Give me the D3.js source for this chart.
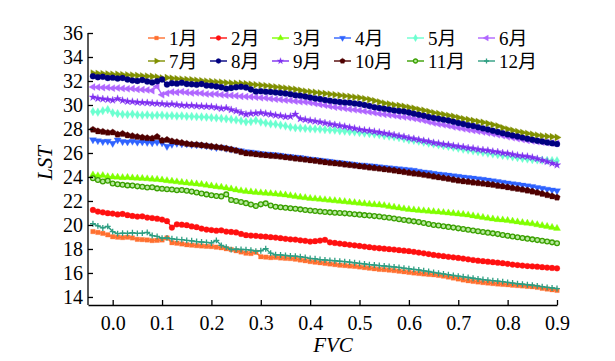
<!DOCTYPE html>
<html>
<head>
<meta charset="utf-8">
<script src="https://cdn.jsdelivr.net/npm/d3@7"></script>
<style>
  body { margin: 0; background: #fff; }
  text { font-family: "Liberation Serif", "Noto Sans CJK SC", serif; }
</style>
</head>
<body>
<script>
const WIDTH = 615;
const HEIGHT = 361;

// ---- data ----
var months = ['1月', '2月', '3月', '4月', '5月', '6月', '7月', '8月', '9月', '10月', '11月', '12月'];
var xTicks = [0.0, 0.1, 0.2, 0.3, 0.4, 0.5, 0.6, 0.7, 0.8, 0.9];
var yTicks = [14, 16, 18, 20, 22, 24, 26, 28, 30, 32, 34, 36];

var fvc = [-0.04, -0.03, -0.02, -0.01, 0.00, 0.01, 0.02, 0.03, 0.04, 0.05,
    0.06, 0.07, 0.08, 0.09, 0.10, 0.11, 0.12, 0.13, 0.14, 0.15,
    0.16, 0.17, 0.18, 0.19, 0.20, 0.21, 0.22, 0.23, 0.24, 0.25,
    0.26, 0.27, 0.28, 0.29, 0.30, 0.31, 0.32, 0.33, 0.34, 0.35,
    0.36, 0.37, 0.38, 0.39, 0.40, 0.41, 0.42, 0.43, 0.44, 0.45,
    0.46, 0.47, 0.48, 0.49, 0.50, 0.51, 0.52, 0.53, 0.54, 0.55,
    0.56, 0.57, 0.58, 0.59, 0.60, 0.61, 0.62, 0.63, 0.64, 0.65,
    0.66, 0.67, 0.68, 0.69, 0.70, 0.71, 0.72, 0.73, 0.74, 0.75,
    0.76, 0.77, 0.78, 0.79, 0.80, 0.81, 0.82, 0.83, 0.84, 0.85,
    0.86, 0.87, 0.88, 0.89, 0.90];

var lstJan = [19.45, 19.38, 19.30, 19.18, 19.02, 18.98, 18.95, 18.98, 18.92, 18.80,
    18.78, 18.75, 18.70, 18.72, 18.75, 18.92, 18.52, 18.48, 18.42, 18.35,
    18.32, 18.28, 18.25, 18.22, 18.20, 18.15, 18.10, 18.02, 17.95, 17.85,
    17.75, 17.65, 17.62, 17.72, 17.35, 17.32, 17.28, 17.30, 17.25, 17.22,
    17.20, 17.15, 17.08, 17.02, 16.95, 16.90, 16.85, 16.80, 16.75, 16.70,
    16.65, 16.62, 16.58, 16.55, 16.50, 16.45, 16.40, 16.35, 16.30, 16.28,
    16.24, 16.20, 16.15, 16.10, 16.05, 16.00, 15.96, 15.92, 15.88, 15.85,
    15.80, 15.74, 15.66, 15.58, 15.50, 15.42, 15.35, 15.30, 15.25, 15.20,
    15.16, 15.12, 15.08, 15.05, 15.02, 14.98, 14.95, 14.92, 14.88, 14.85,
    14.80, 14.72, 14.66, 14.60, 14.55];

var lstFeb = [21.25, 21.12, 21.05, 20.98, 20.95, 20.88, 20.92, 20.82, 20.75, 20.70,
    20.72, 20.62, 20.58, 20.52, 20.45, 20.32, 19.78, 20.05, 20.02, 19.98,
    19.88, 19.82, 19.70, 19.62, 19.58, 19.52, 19.55, 19.45, 19.42, 19.38,
    19.25, 19.15, 19.12, 19.10, 19.05, 19.02, 18.98, 18.95, 18.90, 18.85,
    18.80, 18.78, 18.72, 18.68, 18.62, 18.65, 18.70, 18.76, 18.55, 18.50,
    18.45, 18.40, 18.35, 18.30, 18.25, 18.20, 18.15, 18.10, 18.06, 18.02,
    17.98, 17.95, 17.90, 17.86, 17.82, 17.76, 17.70, 17.64, 17.58, 17.50,
    17.45, 17.40, 17.35, 17.30, 17.25, 17.20, 17.14, 17.08, 17.02, 16.98,
    16.94, 16.90, 16.86, 16.81, 16.76, 16.70, 16.66, 16.62, 16.58, 16.55,
    16.52, 16.48, 16.45, 16.42, 16.39];

var lstMar = [24.17, 24.10, 24.12, 24.02, 24.00, 23.98, 23.95, 23.96, 23.92, 23.90,
    23.88, 23.85, 23.82, 23.80, 23.75, 23.70, 23.65, 23.60, 23.55, 23.50,
    23.46, 23.42, 23.38, 23.32, 23.25, 23.20, 23.15, 23.08, 23.00, 22.92,
    22.85, 22.80, 22.76, 22.72, 22.68, 22.65, 22.62, 22.58, 22.55, 22.50,
    22.44, 22.38, 22.32, 22.27, 22.22, 22.18, 22.14, 22.10, 22.06, 22.02,
    21.98, 21.95, 21.90, 21.86, 21.82, 21.78, 21.74, 21.70, 21.67, 21.62,
    21.55, 21.48, 21.42, 21.35, 21.30, 21.26, 21.22, 21.18, 21.15, 21.11,
    21.08, 21.04, 21.00, 20.96, 20.92, 20.88, 20.83, 20.76, 20.70, 20.63,
    20.56, 20.50, 20.45, 20.42, 20.38, 20.32, 20.26, 20.20, 20.15, 20.10,
    20.02, 19.95, 19.88, 19.80, 19.72];

var lstApr = [27.10, 27.02, 26.95, 26.98, 26.80, 27.08, 26.95, 26.92, 26.98, 26.90,
    26.92, 26.88, 26.85, 26.90, 26.85, 26.55, 26.72, 26.80, 26.75, 26.75,
    26.70, 26.68, 26.65, 26.60, 26.52, 26.45, 26.48, 26.38, 26.32, 26.25,
    26.18, 26.10, 26.08, 26.02, 25.95, 25.92, 25.88, 25.85, 25.80, 25.75,
    25.70, 25.66, 25.62, 25.56, 25.50, 25.45, 25.40, 25.35, 25.30, 25.25,
    25.20, 25.15, 25.10, 25.05, 25.00, 24.98, 24.94, 24.90, 24.85, 24.80,
    24.76, 24.72, 24.68, 24.64, 24.60, 24.55, 24.48, 24.42, 24.36, 24.30,
    24.25, 24.20, 24.15, 24.10, 24.05, 24.00, 23.95, 23.90, 23.85, 23.80,
    23.74, 23.68, 23.62, 23.56, 23.50, 23.44, 23.38, 23.32, 23.26, 23.20,
    23.12, 23.05, 22.98, 22.92, 22.85];

var lstMay = [29.45, 29.40, 29.52, 29.62, 29.35, 29.28, 29.22, 29.20, 29.24, 29.18,
    29.15, 29.18, 29.12, 29.15, 29.15, 29.10, 29.12, 29.08, 29.10, 29.05,
    29.05, 29.02, 29.00, 28.98, 28.95, 28.92, 28.88, 28.85, 28.80, 28.75,
    28.68, 28.60, 28.62, 28.72, 28.58, 28.50, 28.42, 28.40, 28.32, 28.25,
    28.15, 28.10, 28.08, 28.05, 28.02, 28.00, 27.98, 27.95, 27.92, 27.90,
    27.85, 27.82, 27.78, 27.75, 27.70, 27.66, 27.62, 27.58, 27.52, 27.45,
    27.40, 27.35, 27.28, 27.20, 27.10, 27.05, 26.98, 26.90, 26.82, 26.75,
    26.68, 26.62, 26.55, 26.48, 26.40, 26.32, 26.25, 26.18, 26.12, 26.05,
    25.98, 25.92, 25.86, 25.80, 25.75, 25.68, 25.62, 25.56, 25.50, 25.45,
    25.42, 25.40, 25.38, 25.36, 25.35];

var lstJun = [31.50, 31.48, 31.45, 31.46, 31.40, 31.42, 31.38, 31.35, 31.36, 31.30,
    31.28, 31.25, 31.20, 31.55, 30.85, 30.98, 31.08, 31.05, 31.10, 31.05,
    31.00, 31.02, 30.98, 30.92, 30.90, 30.92, 30.85, 30.82, 30.80, 30.76,
    30.72, 30.70, 30.68, 30.65, 30.60, 30.58, 30.52, 30.48, 30.45, 30.40,
    30.38, 30.32, 30.28, 30.25, 30.20, 30.12, 30.05, 29.98, 29.90, 29.82,
    29.78, 29.72, 29.65, 29.60, 29.55, 29.48, 29.42, 29.35, 29.28, 29.22,
    29.18, 29.12, 29.05, 29.00, 28.95, 28.88, 28.80, 28.72, 28.60, 28.50,
    28.42, 28.35, 28.28, 28.18, 28.10, 28.02, 27.95, 27.88, 27.82, 27.75,
    27.68, 27.60, 27.52, 27.45, 27.35, 27.28, 27.20, 27.12, 27.05, 27.00,
    26.95, 26.90, 26.86, 26.82, 26.80];

var lstJul = [32.65, 32.62, 32.60, 32.58, 32.55, 32.55, 32.52, 32.50, 32.48, 32.45,
    32.42, 32.40, 32.38, 32.32, 32.25, 32.28, 32.22, 32.18, 32.15, 32.12,
    32.10, 32.05, 32.02, 31.98, 31.95, 31.92, 31.90, 31.85, 31.82, 31.80,
    31.80, 31.76, 31.72, 31.68, 31.65, 31.60, 31.55, 31.50, 31.45, 31.40,
    31.35, 31.30, 31.22, 31.15, 31.10, 31.05, 31.00, 30.95, 30.90, 30.85,
    30.80, 30.75, 30.70, 30.65, 30.60, 30.52, 30.45, 30.35, 30.25, 30.15,
    30.08, 30.00, 29.95, 29.88, 29.80, 29.72, 29.62, 29.55, 29.45, 29.35,
    29.28, 29.20, 29.12, 29.05, 28.95, 28.85, 28.78, 28.70, 28.62, 28.55,
    28.45, 28.35, 28.25, 28.10, 27.98, 27.88, 27.78, 27.70, 27.62, 27.55,
    27.48, 27.42, 27.38, 27.35, 27.30];

var lstAug = [32.40, 32.32, 32.35, 32.25, 32.28, 32.20, 32.25, 32.12, 32.05, 32.00,
    32.08, 31.95, 31.88, 31.98, 32.12, 31.70, 31.82, 31.78, 31.85, 31.75,
    31.72, 31.68, 31.75, 31.62, 31.60, 31.55, 31.48, 31.36, 31.42, 31.48,
    31.52, 31.45, 31.30, 31.12, 31.15, 31.10, 31.08, 31.05, 31.00, 30.95,
    30.90, 30.82, 30.78, 30.70, 30.62, 30.55, 30.50, 30.42, 30.35, 30.30,
    30.25, 30.20, 30.18, 30.12, 30.08, 30.00, 29.92, 29.82, 29.75, 29.68,
    29.62, 29.55, 29.50, 29.45, 29.38, 29.28, 29.18, 29.10, 29.00, 28.92,
    28.85, 28.78, 28.70, 28.60, 28.50, 28.42, 28.32, 28.25, 28.15, 28.05,
    27.95, 27.85, 27.75, 27.65, 27.55, 27.45, 27.38, 27.28, 27.18, 27.10,
    27.02, 26.95, 26.88, 26.82, 26.75];

var lstSep = [30.65, 30.55, 30.50, 30.45, 30.40, 30.52, 30.38, 30.30, 30.28, 30.22,
    30.20, 30.18, 30.15, 30.12, 30.10, 30.05, 30.08, 30.02, 29.98, 29.95,
    29.95, 29.92, 29.90, 29.88, 29.85, 29.80, 29.70, 29.75, 29.60, 29.50,
    29.35, 29.22, 29.30, 29.32, 29.35, 29.28, 29.22, 29.15, 29.10, 29.02,
    29.05, 29.22, 28.85, 28.78, 28.70, 28.65, 28.58, 28.50, 28.42, 28.35,
    28.28, 28.20, 28.12, 28.05, 27.95, 27.90, 27.85, 27.78, 27.72, 27.65,
    27.58, 27.50, 27.42, 27.35, 27.25, 27.18, 27.10, 27.02, 26.95, 26.85,
    26.80, 26.72, 26.68, 26.60, 26.55, 26.50, 26.42, 26.38, 26.30, 26.25,
    26.20, 26.12, 26.08, 26.00, 25.95, 25.88, 25.80, 25.75, 25.70, 25.62,
    25.52, 25.40, 25.28, 25.15, 25.00];

var lstOct = [27.95, 27.82, 27.78, 27.70, 27.72, 27.55, 27.60, 27.48, 27.42, 27.35,
    27.30, 27.25, 27.22, 27.35, 27.05, 27.10, 26.98, 26.92, 26.85, 26.78,
    26.72, 26.70, 26.65, 26.60, 26.55, 26.50, 26.45, 26.38, 26.30, 26.20,
    26.08, 25.98, 25.95, 25.90, 25.85, 25.82, 25.78, 25.75, 25.70, 25.65,
    25.60, 25.55, 25.50, 25.45, 25.40, 25.35, 25.30, 25.24, 25.18, 25.14,
    25.10, 25.05, 25.00, 24.95, 24.90, 24.85, 24.80, 24.75, 24.70, 24.65,
    24.60, 24.55, 24.48, 24.42, 24.35, 24.30, 24.25, 24.18, 24.12, 24.05,
    23.98, 23.92, 23.85, 23.78, 23.70, 23.65, 23.60, 23.55, 23.50, 23.45,
    23.40, 23.35, 23.28, 23.22, 23.15, 23.08, 23.02, 22.95, 22.88, 22.80,
    22.70, 22.60, 22.50, 22.40, 22.30];

var lstNov = [23.90, 23.75, 23.62, 23.68, 23.45, 23.40, 23.35, 23.30, 23.28, 23.22,
    23.18, 23.12, 23.15, 23.05, 23.02, 22.98, 22.95, 22.90, 22.92, 22.85,
    22.78, 22.70, 22.62, 22.55, 22.48, 22.42, 22.38, 22.55, 22.08, 22.00,
    21.92, 21.82, 21.70, 21.58, 21.72, 21.80, 21.62, 21.52, 21.48, 21.44,
    21.40, 21.35, 21.30, 21.25, 21.20, 21.16, 21.12, 21.08, 21.05, 21.02,
    21.00, 20.97, 20.94, 20.90, 20.86, 20.82, 20.78, 20.74, 20.70, 20.65,
    20.60, 20.54, 20.48, 20.42, 20.36, 20.30, 20.24, 20.16, 20.08, 20.00,
    19.95, 19.90, 19.84, 19.78, 19.72, 19.66, 19.60, 19.54, 19.48, 19.42,
    19.36, 19.30, 19.24, 19.17, 19.10, 19.04, 18.98, 18.92, 18.86, 18.80,
    18.74, 18.68, 18.62, 18.55, 18.47];

var lstDec = [20.10, 19.92, 19.75, 19.88, 19.45, 19.28, 19.32, 19.30, 19.35, 19.30,
    19.32, 19.38, 19.12, 19.05, 18.90, 18.92, 18.85, 18.80, 18.78, 18.72,
    18.68, 18.62, 18.58, 18.55, 18.50, 18.72, 18.30, 18.15, 17.95, 17.98,
    17.96, 17.95, 17.90, 17.82, 17.85, 18.02, 17.65, 17.52, 17.50, 17.46,
    17.42, 17.40, 17.35, 17.30, 17.22, 17.18, 17.12, 17.08, 17.05, 17.02,
    16.98, 16.95, 16.90, 16.85, 16.80, 16.75, 16.70, 16.66, 16.62, 16.58,
    16.54, 16.50, 16.46, 16.40, 16.35, 16.30, 16.25, 16.18, 16.12, 16.05,
    15.98, 15.92, 15.86, 15.80, 15.74, 15.68, 15.62, 15.56, 15.50, 15.45,
    15.40, 15.36, 15.32, 15.28, 15.22, 15.16, 15.10, 15.06, 15.02, 14.98,
    14.92, 14.86, 14.80, 14.75, 14.70];

var lstSeries = [lstJan, lstFeb, lstMar, lstApr, lstMay, lstJun,
    lstJul, lstAug, lstSep, lstOct, lstNov, lstDec];

// ---- styles ----
var colors = ['#ff7030', '#ff1010', '#80ff00', '#2f63ff', '#6cffd0', '#b066ff',
    '#809000', '#000080', '#7f2ff0', '#4f0000', '#3aa000', '#2e9e82'];

var pentagon = {
    draw: function(ctx, size) {
        var r = Math.sqrt(size / 2.378);
        for (var i = 0; i < 5; i++) {
            var a = -Math.PI / 2 + i * 2 * Math.PI / 5;
            if (i === 0) ctx.moveTo(r * Math.cos(a), r * Math.sin(a));
            else ctx.lineTo(r * Math.cos(a), r * Math.sin(a));
        }
        ctx.closePath();
    }
};
var thinPlus = {
    draw: function(ctx, size) {
        var r = Math.sqrt(size) * 0.6;
        ctx.moveTo(-r, 0); ctx.lineTo(r, 0);
        ctx.moveTo(0, -r); ctx.lineTo(0, r);
    }
};

// type, rotation, size, open (light fill with ring), plus (stroke only)
var markers = [
    {type: d3.symbolSquare, rot: 0, size: 20},
    {type: d3.symbolCircle, rot: 0, size: 26},
    {type: d3.symbolTriangle, rot: 0, size: 22},
    {type: d3.symbolTriangle, rot: 180, size: 22},
    {type: d3.symbolDiamond, rot: 0, size: 22},
    {type: d3.symbolTriangle, rot: -90, size: 22},
    {type: d3.symbolTriangle, rot: 90, size: 22},
    {type: d3.symbolCircle, rot: 0, size: 28},
    {type: d3.symbolStar, rot: 0, size: 18},
    {type: pentagon, rot: 0, size: 28},
    {type: d3.symbolCircle, rot: 0, size: 18, open: true},
    {type: thinPlus, rot: 0, size: 24, plus: true}
];

// ---- chart ----
var svg = d3.select('body')
    .append('svg')
    .attr('width', WIDTH)
    .attr('height', HEIGHT);

var x = d3.scaleLinear().domain([-0.05, 0.9]).range([88, 557]);
var y = d3.scaleLinear().domain([13.33, 36]).range([305, 33]);

var line = d3.line()
    .x(function(d) { return x(d[0]); })
    .y(function(d) { return y(d[1]); });

function drawMarker(sel, i, size) {
    var m = markers[i];
    sel.append('path')
        .attr('d', d3.symbol().type(m.type).size(size)())
        .attr('transform', function(d) {
            return 'translate(' + d[0] + ',' + d[1] + ') rotate(' + m.rot + ')';
        })
        .attr('fill', m.plus ? 'none' : (m.open ? '#b8eaa0' : colors[i]))
        .attr('stroke', colors[i])
        .attr('stroke-width', m.plus ? 1.3 : (m.open ? 1.3 : 0.3));
}

var plot = svg.append('g');
lstSeries.forEach(function(vals, i) {
    var pts = fvc.map(function(f, k) { return [f, vals[k]]; });
    var g = plot.append('g');
    g.append('path')
        .datum(pts)
        .attr('d', line)
        .attr('fill', 'none')
        .attr('stroke', colors[i])
        .attr('stroke-width', 1.4);
    g.selectAll('g.pt')
        .data(pts.map(function(p) { return [x(p[0]), y(p[1])]; }))
        .enter()
        .append('g')
        .attr('class', 'pt')
        .each(function() { drawMarker(d3.select(this), i, markers[i].size); });
});

// axes
var xAxis = svg.append('g')
    .attr('transform', 'translate(0,305)')
    .call(d3.axisBottom(x).tickValues(xTicks).tickFormat(d3.format('.1f'))
        .tickSizeInner(-5).tickSizeOuter(0).tickPadding(11));
var yAxis = svg.append('g')
    .attr('transform', 'translate(88,0)')
    .call(d3.axisLeft(y).tickValues(yTicks).tickFormat(d3.format('d'))
        .tickSizeInner(-5).tickSizeOuter(0).tickPadding(5));

[xAxis, yAxis].forEach(function(a) {
    a.select('.domain').attr('stroke', '#000').attr('stroke-width', 1.3);
    a.selectAll('.tick line').attr('stroke', '#000').attr('stroke-width', 1.3);
    a.selectAll('.tick text')
        .attr('fill', '#000')
        .attr('font-size', 20)
        .attr('font-family', '"Liberation Serif", serif');
});
// y axis line stops at the top tick
yAxis.select('.domain').attr('d', 'M0,' + y(36) + 'V305');

svg.append('text')
    .attr('x', 333)
    .attr('y', 352)
    .attr('text-anchor', 'middle')
    .attr('font-size', 21)
    .attr('font-style', 'italic')
    .text('FVC');

svg.append('text')
    .attr('transform', 'translate(52,163) rotate(-90)')
    .attr('text-anchor', 'middle')
    .attr('font-size', 21)
    .attr('font-style', 'italic')
    .text('LST');

// legend
var legendCols = [148, 210, 272, 334, 407, 478];
var legendRows = [38, 61];
var legend = svg.append('g');
months.forEach(function(name, i) {
    var lx = legendCols[i % 6];
    var ly = legendRows[Math.floor(i / 6)];
    var g = legend.append('g');
    g.append('line')
        .attr('x1', lx).attr('x2', lx + 17)
        .attr('y1', ly).attr('y2', ly)
        .attr('stroke', colors[i])
        .attr('stroke-width', 1.4);
    g.selectAll('g.mk')
        .data([[lx + 8.5, ly]])
        .enter()
        .append('g')
        .attr('class', 'mk')
        .each(function() { drawMarker(d3.select(this), i, markers[i].size * 0.7); });
    g.append('text')
        .attr('x', lx + 21)
        .attr('y', ly)
        .attr('dy', '0.36em')
        .attr('font-size', 19)
        .attr('fill', '#000')
        .text(name);
});
</script>
</body>
</html>
